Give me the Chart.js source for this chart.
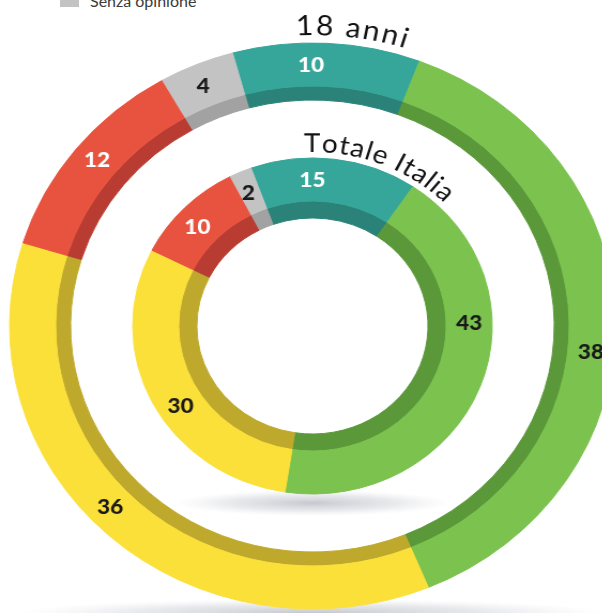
<!DOCTYPE html>
<html><head><meta charset="utf-8">
<script src="https://cdn.jsdelivr.net/npm/chart.js@4"></script>
<style>
html,body{margin:0;padding:0;background:#fff;}
body{width:602px;height:613px;overflow:hidden;position:relative;}
#sw{position:absolute;left:60px;top:-12px;width:19px;height:19px;background:#c3c3c3;}
#lt{position:absolute;left:90px;top:-7px;font:16px Lato,'Open Sans',sans-serif;line-height:16px;color:#3a3a3a;white-space:nowrap;}
#c{position:absolute;left:0;top:0;transform:scaleX(1.07);transform-origin:0 0;}
</style></head>
<body>
<div id="sw"></div><div id="lt"></div>
<canvas id="c" width="584" height="652"></canvas>
<script>
// ---- data ----
const categories = ['Molto d\'accordo', 'Abbastanza d\'accordo', 'Poco d\'accordo', 'Per niente d\'accordo', 'Senza opinione'];
const diciottoAnni = [10, 38, 36, 12, 4];
const totaleItalia = [15, 43, 30, 10, 2];
const ringTitles = ['18 anni', 'Totale Italia'];
const legendShown = ['Senza opinione'];

// ---- styles ----
const lightColors = ['#35a699', '#7bc24e', '#fbe03a', '#e8533f', '#c3c3c3'];
const darkColors  = ['#2a8278', '#5a9839', '#bfa92d', '#b83c31', '#a2a2a2'];
const labelColors = ['#ffffff', '#1a1a1a', '#1a1a1a', '#ffffff', '#1a1a1a'];
const outerLabelShift = [-3, 6.5, 4, 1, -0.5];
const innerLabelShift = [-7, -23, -5.5, -2, -0.5];

document.getElementById('lt').textContent = legendShown[0];

function ring(label, data, colors, weight, rotation) {
  return { label, data, backgroundColor: colors, borderColor: colors, borderWidth: 1,
           weight, rotation };
}

const datasets = [
  ring(ringTitles[0], diciottoAnni, lightColors, 43, -15.3),
  ring('', diciottoAnni, darkColors, 14, -15.3),
  { label: '', data: [1], backgroundColor: ['rgba(0,0,0,0)'], borderWidth: 0, weight: 58 },
  ring(ringTitles[1], totaleItalia, lightColors, 43, -20),
  ring('', totaleItalia, darkColors, 17, -20)
];

function arcText(ctx, text, cx, cy, r, startDeg, endDeg, font, color) {
  ctx.save();
  ctx.font = font; ctx.fillStyle = color; ctx.textAlign = 'center'; ctx.textBaseline = 'alphabetic';
  const chars = [...text];
  const widths = chars.map(c => ctx.measureText(c).width);
  const natural = widths.reduce((s, w) => s + w, 0);
  const arcLen = (endDeg - startDeg) * Math.PI / 180 * r;
  const gap = (arcLen - natural) / (chars.length - 1);
  let pos = 0;
  chars.forEach((c, i) => {
    const th = startDeg * Math.PI / 180 + (pos + widths[i] / 2) / r;
    ctx.save();
    ctx.translate(cx + r * Math.sin(th), cy - r * Math.cos(th));
    ctx.rotate(th);
    ctx.fillText(c, 0, 0);
    ctx.restore();
    pos += widths[i] + gap;
  });
  ctx.restore();
}

const decor = {
  id: 'decor',
  beforeDatasetsDraw(chart) {
    const ctx = chart.ctx;
    [[0, 4, 275, 14], [3, 9, 130, 13]].forEach(([di, dy, rx, ry]) => {
      const arc = chart.getDatasetMeta(di).data[0];
      const sx = arc.x, sy = arc.y + arc.outerRadius + dy;
      ctx.save();
      ctx.translate(sx, sy);
      ctx.scale(1, ry / rx);
      const g = ctx.createRadialGradient(0, 0, 0, 0, 0, rx);
      g.addColorStop(0, 'rgba(140,145,158,0.5)');
      g.addColorStop(0.6, 'rgba(165,170,182,0.25)');
      g.addColorStop(1, 'rgba(200,200,210,0)');
      ctx.fillStyle = g;
      ctx.beginPath(); ctx.arc(0, 0, rx, 0, Math.PI * 2); ctx.fill();
      ctx.restore();
    });
  },
  afterDatasetsDraw(chart) {
    const ctx = chart.ctx;
    [[0, outerLabelShift], [3, innerLabelShift]].forEach(([di, shifts]) => {
      const meta = chart.getDatasetMeta(di);
      const values = chart.data.datasets[di].data;
      meta.data.forEach((arc, i) => {
        const a = (arc.startAngle + arc.endAngle) / 2 + shifts[i] * Math.PI / 180;
        const r = (arc.innerRadius + arc.outerRadius) / 2;
        ctx.save();
        ctx.font = '900 21px Lato, "Open Sans", sans-serif';
        ctx.fillStyle = labelColors[i];
        ctx.textAlign = 'center'; ctx.textBaseline = 'middle';
        ctx.fillText(String(values[i]), arc.x + r * Math.cos(a), arc.y + r * Math.sin(a) + 1);
        ctx.restore();
      });
    });
    const o = chart.getDatasetMeta(0).data[0];
    arcText(ctx, chart.data.datasets[0].label, o.x, o.y, o.outerRadius + 8, -3, 17.3,
            '400 28px Lato, "Open Sans", sans-serif', '#111111');
    const n = chart.getDatasetMeta(3).data[0];
    arcText(ctx, chart.data.datasets[3].label, n.x, n.y, n.outerRadius + 6, -2.6, 45,
            '400 26px Lato, "Open Sans", sans-serif', '#111111');
  }
};

new Chart(document.getElementById('c'), {
  type: 'doughnut',
  data: { labels: categories, datasets },
  options: {
    responsive: false,
    animation: false,
    events: [],
    radius: 283,
    cutout: (108 / 283 * 100) + '%',
    layout: { padding: 0 },
    plugins: { legend: { display: false }, tooltip: { enabled: false } }
  },
  plugins: [decor]
});
</script>
</body></html>
